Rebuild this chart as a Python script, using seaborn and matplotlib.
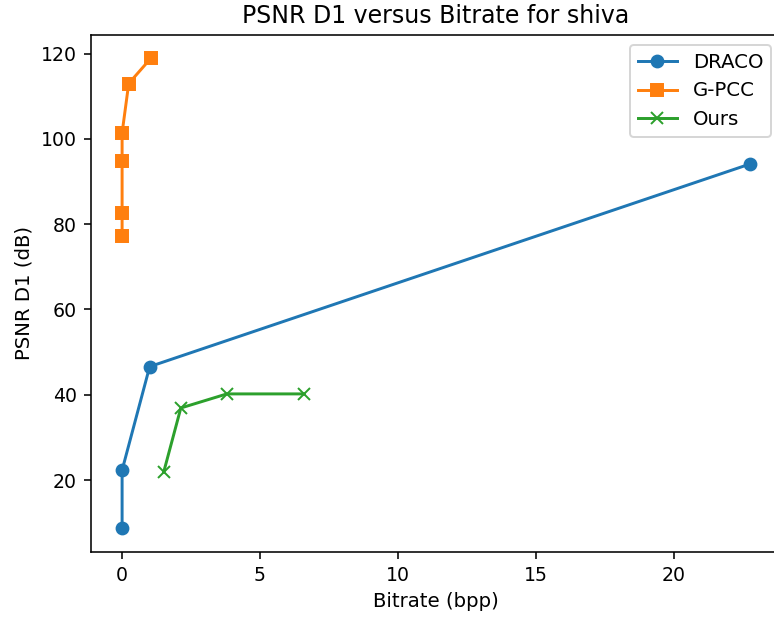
import matplotlib
matplotlib.use("Agg")
import matplotlib.pyplot as plt
import seaborn as sns
import pandas as pd

# Rate-distortion points per codec
draco_bpp = [0.0, 0.0, 1.0, 22.76]
draco_psnr = [8.7, 22.3, 46.6, 94.1]

gpcc_bpp = [0.0, 0.0, 0.0, 0.0, 0.24, 1.04]
gpcc_psnr = [77.2, 82.6, 94.8, 101.4, 113.0, 118.9]

ours_bpp = [1.51, 2.13, 3.80, 6.60]
ours_psnr = [21.9, 36.9, 40.2, 40.2]

series = [
    ("DRACO", draco_bpp, draco_psnr, "o", "#1f77b4"),
    ("G-PCC", gpcc_bpp, gpcc_psnr, "s", "#ff7f0e"),
    ("Ours", ours_bpp, ours_psnr, "x", "#2ca02c"),
]

DPI = 142
fig = plt.figure(figsize=(774 / DPI, 619 / DPI), dpi=DPI)
ax = fig.add_axes([0.1172, 0.1087, 0.892, 0.835])

for name, xs, ys, marker, color in series:
    df = pd.DataFrame({"bpp": xs, "psnr": ys})
    sns.lineplot(data=df, x="bpp", y="psnr", sort=False, estimator=None,
                 errorbar=None, marker=marker, color=color, label=name,
                 ax=ax, markersize=6, linewidth=1.5,
                 markeredgecolor=color, markeredgewidth=1.0)

ax.set_title("PSNR D1 versus Bitrate for shiva", fontsize=12)
ax.set_xlabel("Bitrate (bpp)", fontsize=10)
ax.set_ylabel("PSNR D1 (dB)", fontsize=10)
ax.set_xticks([0, 5, 10, 15, 20])
ax.set_yticks([20, 40, 60, 80, 100, 120])
ax.tick_params(labelsize=9.6)
ax.legend(loc="upper right", fontsize=10)

fig.savefig("out.png", dpi=DPI)
